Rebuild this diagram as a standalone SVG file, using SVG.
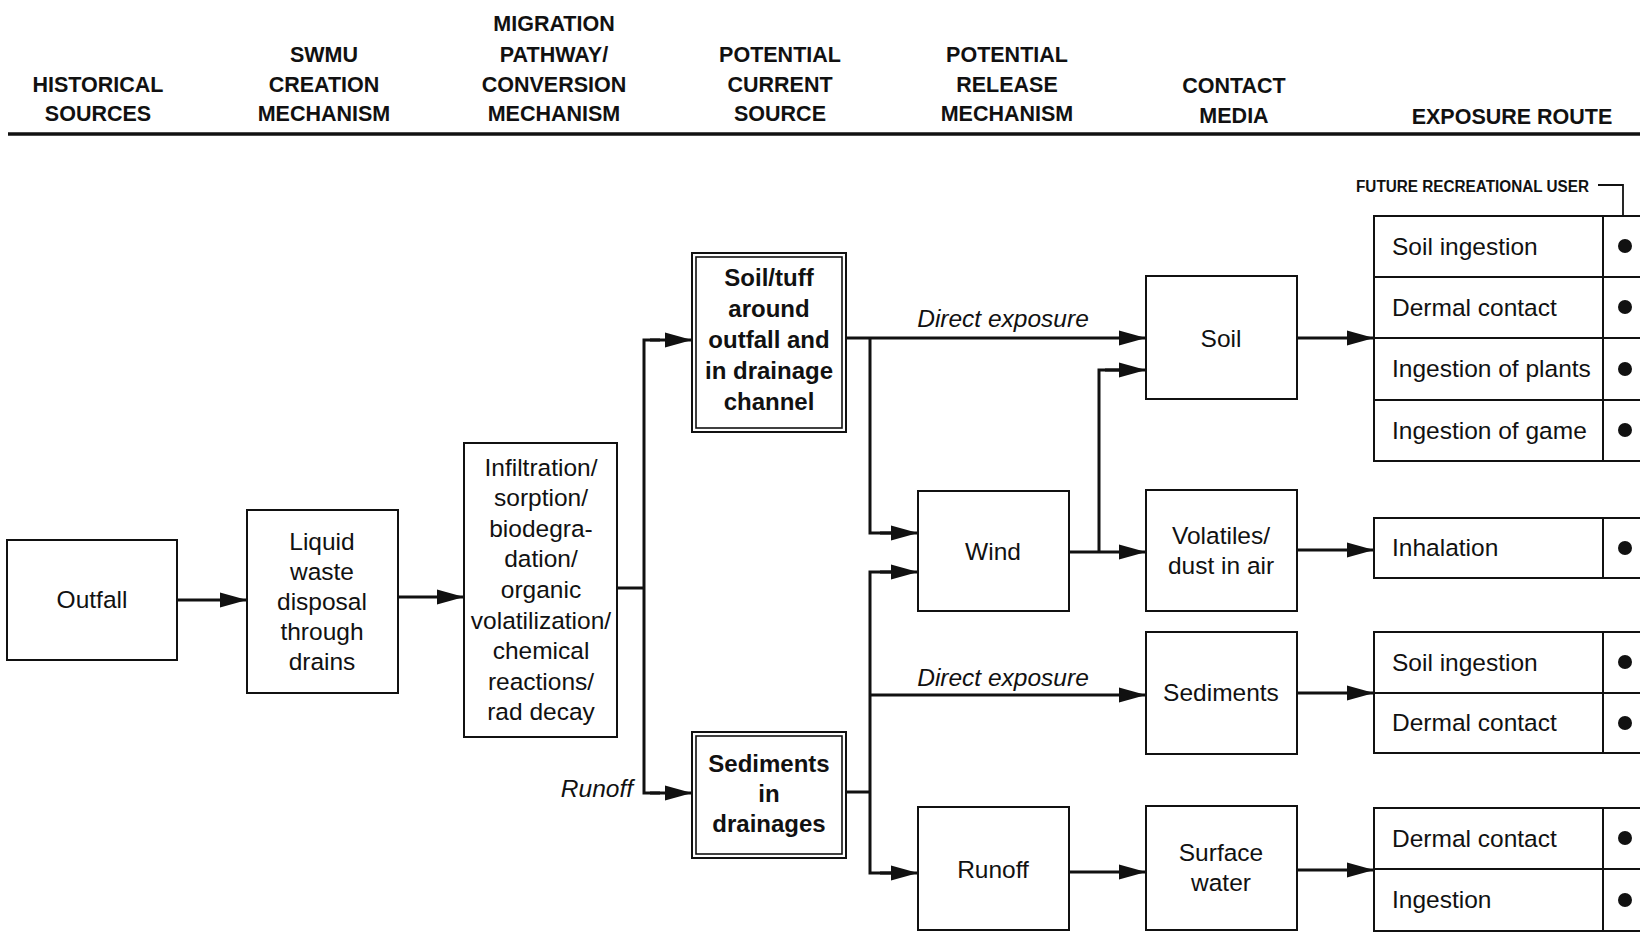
<svg xmlns="http://www.w3.org/2000/svg" width="1640" height="932" viewBox="0 0 1640 932">
  <style>
    .hdr { font-family: "Liberation Sans", Arial, sans-serif; font-weight: bold; font-size: 21.5px; text-anchor: middle; fill: #111; }
    .box { fill: #fff; stroke: #111; stroke-width: 2; }
    .inner { fill: none; stroke: #111; stroke-width: 1.6; }
    .lbl { font-family: "Liberation Sans", Arial, sans-serif; font-size: 24.5px; text-anchor: middle; fill: #111; }
    .blbl { font-family: "Liberation Sans", Arial, sans-serif; font-weight: bold; font-size: 24px; text-anchor: middle; fill: #111; }
    .ital { font-family: "Liberation Sans", Arial, sans-serif; font-style: italic; font-size: 24.5px; fill: #111; }
    .row { font-family: "Liberation Sans", Arial, sans-serif; font-size: 24.5px; fill: #111; }
    .wire { fill: none; stroke: #111; stroke-width: 3; }
    .arr { fill: none; stroke: #111; stroke-width: 3; marker-end: url(#head); }
    .grid { fill: none; stroke: #111; stroke-width: 2; }
    .dot { fill: #111; }
  </style>
  <defs>
    <marker id="head" markerUnits="userSpaceOnUse" markerWidth="30" markerHeight="18" refX="28" refY="9" orient="auto">
      <path d="M1,1.5 L28,9 L1,16.5 Z" fill="#111"/>
    </marker>
  </defs>

  <rect width="1640" height="932" fill="#fff"/>

  <!-- column headings -->
  <g id="headings">
    <text class="hdr" x="98" y="92">HISTORICAL</text>
    <text class="hdr" x="98" y="121">SOURCES</text>
    <text class="hdr" x="324" y="62">SWMU</text>
    <text class="hdr" x="324" y="92">CREATION</text>
    <text class="hdr" x="324" y="121">MECHANISM</text>
    <text class="hdr" x="554" y="31">MIGRATION</text>
    <text class="hdr" x="554" y="62">PATHWAY/</text>
    <text class="hdr" x="554" y="92">CONVERSION</text>
    <text class="hdr" x="554" y="121">MECHANISM</text>
    <text class="hdr" x="780" y="62">POTENTIAL</text>
    <text class="hdr" x="780" y="92">CURRENT</text>
    <text class="hdr" x="780" y="121">SOURCE</text>
    <text class="hdr" x="1007" y="62">POTENTIAL</text>
    <text class="hdr" x="1007" y="92">RELEASE</text>
    <text class="hdr" x="1007" y="121">MECHANISM</text>
    <text class="hdr" x="1234" y="93">CONTACT</text>
    <text class="hdr" x="1234" y="123">MEDIA</text>
    <text class="hdr" x="1512" y="124">EXPOSURE ROUTE</text>
    <line x1="8" y1="134" x2="1640" y2="134" stroke="#111" stroke-width="3.5"/>
  </g>

  <!-- connectors -->
  <g id="connectors">
    <line class="arr" x1="177" y1="600" x2="247" y2="600"/>
    <line class="arr" x1="398" y1="597" x2="464" y2="597"/>
    <polyline class="wire" points="617,588 644,588"/>
    <polyline class="wire" points="660,340 644,340 644,793 660,793"/>
    <line class="arr" x1="650" y1="340" x2="692" y2="340"/>
    <line class="arr" x1="650" y1="793" x2="692" y2="793"/>
    <line class="arr" x1="846" y1="338" x2="1146" y2="338"/>
    <polyline class="wire" points="870,338 870,533 900,533"/>
    <line class="arr" x1="880" y1="533" x2="918" y2="533"/>
    <polyline class="wire" points="846,792 870,792"/>
    <polyline class="wire" points="900,572 870,572 870,873 900,873"/>
    <line class="arr" x1="880" y1="572" x2="918" y2="572"/>
    <line class="arr" x1="870" y1="695" x2="1146" y2="695"/>
    <line class="arr" x1="880" y1="873" x2="918" y2="873"/>
    <line class="arr" x1="1069" y1="552" x2="1146" y2="552"/>
    <polyline class="wire" points="1099,552 1099,370 1120,370"/>
    <line class="arr" x1="1105" y1="370" x2="1146" y2="370"/>
    <line class="arr" x1="1297" y1="338" x2="1374" y2="338"/>
    <line class="arr" x1="1297" y1="550" x2="1374" y2="550"/>
    <line class="arr" x1="1297" y1="693" x2="1374" y2="693"/>
    <line class="arr" x1="1069" y1="872" x2="1146" y2="872"/>
    <line class="arr" x1="1297" y1="870" x2="1374" y2="870"/>
    <text class="ital" x="1003" y="327" text-anchor="middle">Direct exposure</text>
    <text class="ital" x="1003" y="686" text-anchor="middle">Direct exposure</text>
    <text class="ital" x="633" y="797" text-anchor="end">Runoff</text>
  </g>

  <g id="outfall">
    <rect class="box" x="7" y="540" width="170" height="120"/>
    <text class="lbl" x="92" y="608">Outfall</text>
  </g>

  <g id="liquid-waste">
    <rect class="box" x="247" y="510" width="151" height="183"/>
    <text class="lbl" x="322" y="550">Liquid</text>
    <text class="lbl" x="322" y="580">waste</text>
    <text class="lbl" x="322" y="610">disposal</text>
    <text class="lbl" x="322" y="640">through</text>
    <text class="lbl" x="322" y="670">drains</text>
  </g>

  <g id="migration">
    <rect class="box" x="464" y="443" width="153" height="294"/>
    <text class="lbl" x="541" y="476">Infiltration/</text>
    <text class="lbl" x="541" y="506">sorption/</text>
    <text class="lbl" x="541" y="537">biodegra-</text>
    <text class="lbl" x="541" y="567">dation/</text>
    <text class="lbl" x="541" y="598">organic</text>
    <text class="lbl" x="541" y="629">volatilization/</text>
    <text class="lbl" x="541" y="659">chemical</text>
    <text class="lbl" x="541" y="690">reactions/</text>
    <text class="lbl" x="541" y="720">rad decay</text>
  </g>

  <g id="soil-tuff">
    <rect class="box" x="692" y="253" width="154" height="179"/>
    <rect class="inner" x="696" y="257" width="146" height="171"/>
    <text class="blbl" x="769" y="286">Soil/tuff</text>
    <text class="blbl" x="769" y="317">around</text>
    <text class="blbl" x="769" y="348">outfall and</text>
    <text class="blbl" x="769" y="379">in drainage</text>
    <text class="blbl" x="769" y="410">channel</text>
  </g>

  <g id="sediments-drainages">
    <rect class="box" x="692" y="732" width="154" height="126"/>
    <rect class="inner" x="696" y="736" width="146" height="118"/>
    <text class="blbl" x="769" y="772">Sediments</text>
    <text class="blbl" x="769" y="802">in</text>
    <text class="blbl" x="769" y="832">drainages</text>
  </g>

  <g id="wind">
    <rect class="box" x="918" y="491" width="151" height="120"/>
    <text class="lbl" x="993" y="560">Wind</text>
  </g>

  <g id="runoff">
    <rect class="box" x="918" y="807" width="151" height="123"/>
    <text class="lbl" x="993" y="878">Runoff</text>
  </g>

  <g id="soil">
    <rect class="box" x="1146" y="276" width="151" height="123"/>
    <text class="lbl" x="1221" y="347">Soil</text>
  </g>

  <g id="volatiles">
    <rect class="box" x="1146" y="490" width="151" height="121"/>
    <text class="lbl" x="1221" y="544">Volatiles/</text>
    <text class="lbl" x="1221" y="574">dust in air</text>
  </g>

  <g id="sediments">
    <rect class="box" x="1146" y="632" width="151" height="122"/>
    <text class="lbl" x="1221" y="701">Sediments</text>
  </g>

  <g id="surface-water">
    <rect class="box" x="1146" y="806" width="151" height="124"/>
    <text class="lbl" x="1221" y="861">Surface</text>
    <text class="lbl" x="1221" y="891">water</text>
  </g>

  <g id="receptor-label">
    <text x="1356" y="192" font-family="'Liberation Sans', Arial, sans-serif" font-weight="bold" font-size="16" textLength="233" lengthAdjust="spacingAndGlyphs" fill="#111">FUTURE RECREATIONAL USER</text>
    <polyline points="1598,185 1623,185 1623,216" fill="none" stroke="#111" stroke-width="1.8"/>
  </g>

  <g id="soil-routes">
    <rect class="grid" x="1374" y="216" width="280" height="245"/>
    <line class="grid" x1="1374" y1="277" x2="1640" y2="277"/>
    <line class="grid" x1="1374" y1="338" x2="1640" y2="338"/>
    <line class="grid" x1="1374" y1="400" x2="1640" y2="400"/>
    <line class="grid" x1="1603" y1="216" x2="1603" y2="461"/>
    <text class="row" x="1392" y="255">Soil ingestion</text>
    <text class="row" x="1392" y="316">Dermal contact</text>
    <text class="row" x="1392" y="377">Ingestion of plants</text>
    <text class="row" x="1392" y="439">Ingestion of game</text>
    <circle class="dot" cx="1625" cy="246" r="7"/>
    <circle class="dot" cx="1625" cy="307" r="7"/>
    <circle class="dot" cx="1625" cy="369" r="7"/>
    <circle class="dot" cx="1625" cy="430" r="7"/>
  </g>

  <g id="air-routes">
    <rect class="grid" x="1374" y="518" width="280" height="60"/>
    <line class="grid" x1="1603" y1="518" x2="1603" y2="578"/>
    <text class="row" x="1392" y="556">Inhalation</text>
    <circle class="dot" cx="1625" cy="548" r="7"/>
  </g>

  <g id="sediment-routes">
    <rect class="grid" x="1374" y="632" width="280" height="121"/>
    <line class="grid" x1="1374" y1="693" x2="1640" y2="693"/>
    <line class="grid" x1="1603" y1="632" x2="1603" y2="753"/>
    <text class="row" x="1392" y="671">Soil ingestion</text>
    <text class="row" x="1392" y="731">Dermal contact</text>
    <circle class="dot" cx="1625" cy="662" r="7"/>
    <circle class="dot" cx="1625" cy="723" r="7"/>
  </g>

  <g id="water-routes">
    <rect class="grid" x="1374" y="808" width="280" height="123"/>
    <line class="grid" x1="1374" y1="869" x2="1640" y2="869"/>
    <line class="grid" x1="1603" y1="808" x2="1603" y2="931"/>
    <text class="row" x="1392" y="847">Dermal contact</text>
    <text class="row" x="1392" y="908">Ingestion</text>
    <circle class="dot" cx="1625" cy="838" r="7"/>
    <circle class="dot" cx="1625" cy="900" r="7"/>
  </g>
</svg>
